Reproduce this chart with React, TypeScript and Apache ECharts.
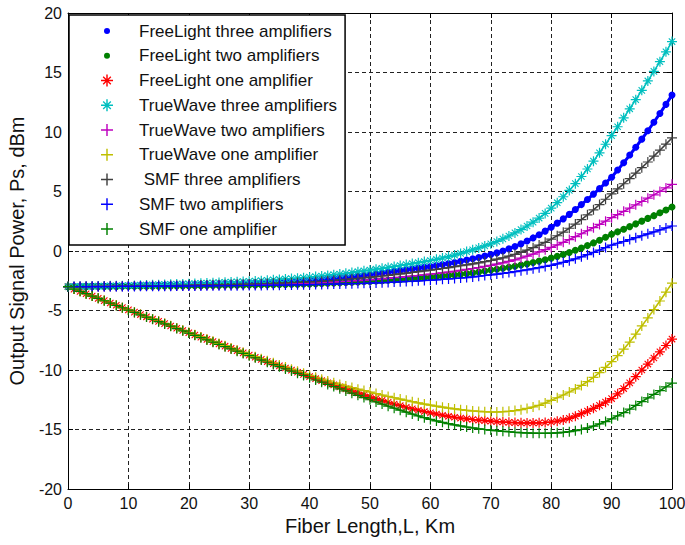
import React, { useEffect, useRef } from "react";
import * as echarts from "echarts";

// Fiber length (km)
const DISTANCE_KM = [
  0, 1, 2, 3, 4, 5, 6, 7, 8, 9, 10, 11, 12, 13, 14, 15, 16, 17, 18, 19, 20,
  21, 22, 23, 24, 25, 26, 27, 28, 29, 30, 31, 32, 33, 34, 35, 36, 37, 38, 39, 40,
  41, 42, 43, 44, 45, 46, 47, 48, 49, 50, 51, 52, 53, 54, 55, 56, 57, 58, 59, 60,
  61, 62, 63, 64, 65, 66, 67, 68, 69, 70, 71, 72, 73, 74, 75, 76, 77, 78, 79, 80,
  81, 82, 83, 84, 85, 86, 87, 88, 89, 90, 91, 92, 93, 94, 95, 96, 97, 98, 99, 100,
];

const FL_THREE = [
  -3.0, -2.99, -2.99, -2.98, -2.97, -2.96, -2.96, -2.95, -2.95, -2.94, -2.93,
  -2.92, -2.91, -2.91, -2.9, -2.89, -2.88, -2.87, -2.87, -2.86, -2.85,
  -2.84, -2.82, -2.81, -2.79, -2.78, -2.76, -2.75, -2.73, -2.72, -2.7,
  -2.68, -2.66, -2.63, -2.61, -2.58, -2.56, -2.53, -2.51, -2.48, -2.45,
  -2.41, -2.37, -2.32, -2.28, -2.23, -2.18, -2.12, -2.07, -2.01, -1.95,
  -1.89, -1.83, -1.77, -1.71, -1.64, -1.58, -1.51, -1.44, -1.37, -1.3,
  -1.22, -1.14, -1.05, -0.96, -0.86, -0.76, -0.65, -0.54, -0.42, -0.3,
  -0.16, 0.0, 0.18, 0.38, 0.6, 0.84, 1.1, 1.37, 1.67, 2.0,
  2.34, 2.7, 3.08, 3.48, 3.9, 4.33, 4.78, 5.24, 5.72, 6.2,
  6.8, 7.42, 8.06, 8.72, 9.4, 10.1, 10.82, 11.56, 12.32, 13.1,
];

const FL_TWO = [
  -3.0, -3.0, -3.0, -2.99, -2.99, -2.99, -2.98, -2.98, -2.98, -2.97, -2.97,
  -2.97, -2.96, -2.96, -2.95, -2.95, -2.94, -2.94, -2.93, -2.93, -2.92,
  -2.91, -2.91, -2.9, -2.9, -2.89, -2.88, -2.88, -2.87, -2.87, -2.86,
  -2.85, -2.84, -2.84, -2.83, -2.82, -2.81, -2.8, -2.79, -2.78, -2.77,
  -2.75, -2.73, -2.71, -2.69, -2.67, -2.65, -2.62, -2.6, -2.57, -2.55,
  -2.52, -2.49, -2.46, -2.43, -2.39, -2.36, -2.32, -2.28, -2.24, -2.2,
  -2.16, -2.11, -2.06, -2.01, -1.95, -1.9, -1.84, -1.76, -1.68, -1.6,
  -1.53, -1.45, -1.37, -1.28, -1.18, -1.08, -0.97, -0.85, -0.73, -0.6,
  -0.45, -0.29, -0.12, 0.06, 0.25, 0.46, 0.68, 0.91, 1.15, 1.4,
  1.61, 1.83, 2.05, 2.28, 2.51, 2.74, 2.97, 3.21, 3.45, 3.7,
];

const FL_ONE = [
  -3.0, -3.2, -3.39, -3.59, -3.78, -3.98, -4.17, -4.37, -4.56, -4.76, -4.95,
  -5.14, -5.34, -5.53, -5.72, -5.91, -6.1, -6.3, -6.49, -6.68, -6.87,
  -7.06, -7.25, -7.43, -7.62, -7.81, -8.0, -8.19, -8.37, -8.56, -8.75,
  -8.93, -9.11, -9.29, -9.47, -9.65, -9.83, -10.01, -10.19, -10.37, -10.55,
  -10.73, -10.9, -11.08, -11.25, -11.42, -11.59, -11.76, -11.93, -12.09, -12.25,
  -12.41, -12.56, -12.71, -12.86, -13.0, -13.13, -13.26, -13.38, -13.49, -13.6,
  -13.7, -13.8, -13.89, -13.97, -14.04, -14.1, -14.16, -14.21, -14.26, -14.3,
  -14.34, -14.37, -14.4, -14.42, -14.44, -14.45, -14.45, -14.44, -14.41, -14.37,
  -14.3, -14.2, -14.06, -13.88, -13.67, -13.45, -13.22, -12.97, -12.7, -12.4,
  -12.0, -11.56, -11.08, -10.56, -10.0, -9.5, -8.99, -8.47, -7.94, -7.4,
];

const TW_THREE = [
  -3.0, -2.99, -2.98, -2.97, -2.96, -2.95, -2.94, -2.93, -2.92, -2.91, -2.9,
  -2.89, -2.87, -2.86, -2.84, -2.83, -2.81, -2.8, -2.78, -2.77, -2.75,
  -2.73, -2.71, -2.69, -2.67, -2.65, -2.63, -2.61, -2.59, -2.57, -2.55,
  -2.52, -2.49, -2.46, -2.42, -2.39, -2.35, -2.32, -2.28, -2.24, -2.2,
  -2.15, -2.1, -2.05, -1.99, -1.94, -1.88, -1.81, -1.74, -1.67, -1.6,
  -1.53, -1.46, -1.38, -1.3, -1.22, -1.14, -1.06, -0.98, -0.89, -0.8,
  -0.7, -0.59, -0.47, -0.34, -0.2, -0.05, 0.1, 0.26, 0.43, 0.6,
  0.8, 1.02, 1.26, 1.52, 1.8, 2.1, 2.42, 2.77, 3.16, 3.6,
  4.06, 4.56, 5.09, 5.66, 6.26, 6.89, 7.55, 8.25, 8.97, 9.7,
  10.44, 11.19, 11.95, 12.72, 13.5, 14.29, 15.09, 15.91, 16.74, 17.6,
];

const TW_TWO = [
  -3.0, -3.0, -2.99, -2.99, -2.99, -2.98, -2.98, -2.97, -2.97, -2.96, -2.96,
  -2.95, -2.95, -2.94, -2.93, -2.93, -2.92, -2.92, -2.91, -2.91, -2.9,
  -2.89, -2.88, -2.88, -2.87, -2.86, -2.85, -2.84, -2.84, -2.83, -2.82,
  -2.81, -2.8, -2.79, -2.78, -2.76, -2.75, -2.74, -2.73, -2.72, -2.7,
  -2.68, -2.66, -2.63, -2.61, -2.58, -2.55, -2.52, -2.49, -2.45, -2.42,
  -2.38, -2.34, -2.3, -2.25, -2.21, -2.16, -2.11, -2.06, -2.01, -1.95,
  -1.89, -1.83, -1.77, -1.7, -1.63, -1.55, -1.47, -1.39, -1.3, -1.2,
  -1.1, -0.99, -0.87, -0.74, -0.59, -0.43, -0.26, -0.08, 0.11, 0.3,
  0.51, 0.73, 0.96, 1.2, 1.45, 1.7, 1.96, 2.23, 2.51, 2.8,
  3.06, 3.33, 3.6, 3.88, 4.16, 4.44, 4.72, 5.01, 5.3, 5.6,
];

const TW_ONE = [
  -3.0, -3.2, -3.39, -3.59, -3.78, -3.98, -4.17, -4.37, -4.56, -4.76, -4.95,
  -5.14, -5.33, -5.52, -5.71, -5.9, -6.09, -6.28, -6.47, -6.66, -6.85,
  -7.04, -7.22, -7.41, -7.59, -7.78, -7.96, -8.15, -8.33, -8.52, -8.7,
  -8.88, -9.05, -9.23, -9.4, -9.58, -9.75, -9.93, -10.1, -10.28, -10.45,
  -10.61, -10.77, -10.92, -11.07, -11.21, -11.35, -11.48, -11.61, -11.73, -11.85,
  -11.98, -12.1, -12.22, -12.33, -12.44, -12.55, -12.66, -12.76, -12.86, -12.95,
  -13.04, -13.12, -13.2, -13.27, -13.33, -13.39, -13.44, -13.48, -13.51, -13.53,
  -13.53, -13.51, -13.47, -13.41, -13.33, -13.23, -13.11, -12.97, -12.78, -12.55,
  -12.33, -12.1, -11.85, -11.59, -11.3, -10.98, -10.62, -10.22, -9.78, -9.3,
  -8.8, -8.25, -7.65, -6.99, -6.3, -5.62, -4.92, -4.2, -3.46, -2.7,
];

const SMF_THREE = [
  -3.0, -3.0, -2.99, -2.99, -2.98, -2.98, -2.97, -2.97, -2.96, -2.96, -2.95,
  -2.94, -2.94, -2.93, -2.92, -2.92, -2.91, -2.9, -2.89, -2.89, -2.88,
  -2.87, -2.86, -2.85, -2.84, -2.83, -2.82, -2.81, -2.8, -2.79, -2.78,
  -2.77, -2.75, -2.73, -2.72, -2.7, -2.68, -2.66, -2.64, -2.62, -2.6,
  -2.57, -2.54, -2.5, -2.46, -2.42, -2.38, -2.34, -2.29, -2.25, -2.2,
  -2.15, -2.1, -2.04, -1.98, -1.92, -1.86, -1.8, -1.73, -1.67, -1.6,
  -1.54, -1.47, -1.4, -1.32, -1.24, -1.16, -1.08, -0.99, -0.9, -0.8,
  -0.69, -0.57, -0.43, -0.28, -0.11, 0.08, 0.28, 0.5, 0.73, 1.0,
  1.28, 1.58, 1.91, 2.26, 2.64, 3.04, 3.46, 3.9, 4.35, 4.8,
  5.22, 5.65, 6.09, 6.54, 7.0, 7.48, 7.97, 8.47, 8.98, 9.5,
];

const SMF_TWO = [
  -3.0, -3.0, -3.0, -3.0, -2.99, -2.99, -2.99, -2.99, -2.98, -2.98, -2.98,
  -2.98, -2.97, -2.97, -2.97, -2.96, -2.96, -2.96, -2.95, -2.95, -2.95,
  -2.94, -2.94, -2.93, -2.93, -2.92, -2.92, -2.91, -2.91, -2.9, -2.9,
  -2.89, -2.89, -2.88, -2.87, -2.87, -2.86, -2.85, -2.84, -2.84, -2.83,
  -2.82, -2.81, -2.8, -2.78, -2.77, -2.76, -2.75, -2.73, -2.72, -2.7,
  -2.68, -2.66, -2.64, -2.61, -2.59, -2.56, -2.54, -2.51, -2.48, -2.45,
  -2.42, -2.38, -2.35, -2.31, -2.27, -2.23, -2.18, -2.12, -2.06, -2.0,
  -1.94, -1.88, -1.81, -1.74, -1.66, -1.58, -1.49, -1.4, -1.3, -1.2,
  -1.08, -0.95, -0.81, -0.66, -0.49, -0.31, -0.12, 0.08, 0.29, 0.5,
  0.65, 0.8, 0.96, 1.12, 1.28, 1.44, 1.6, 1.77, 1.94, 2.1,
];

const SMF_ONE = [
  -3.0, -3.2, -3.39, -3.59, -3.79, -3.98, -4.18, -4.38, -4.58, -4.77, -4.97,
  -5.16, -5.36, -5.55, -5.74, -5.94, -6.13, -6.32, -6.52, -6.71, -6.9,
  -7.09, -7.28, -7.47, -7.66, -7.85, -8.04, -8.23, -8.42, -8.61, -8.8,
  -8.98, -9.17, -9.35, -9.54, -9.72, -9.91, -10.09, -10.28, -10.46, -10.65,
  -10.84, -11.02, -11.21, -11.39, -11.58, -11.76, -11.95, -12.13, -12.32, -12.5,
  -12.68, -12.86, -13.04, -13.21, -13.38, -13.54, -13.7, -13.86, -14.01, -14.15,
  -14.28, -14.4, -14.51, -14.61, -14.7, -14.79, -14.87, -14.94, -15.0, -15.05,
  -15.1, -15.15, -15.19, -15.23, -15.26, -15.29, -15.31, -15.32, -15.32, -15.31,
  -15.28, -15.24, -15.18, -15.1, -15.0, -14.87, -14.71, -14.53, -14.33, -14.1,
  -13.85, -13.58, -13.29, -12.98, -12.65, -12.35, -12.05, -11.74, -11.42, -11.1,
];

const SERIES_NAMES = [
  "FreeLight three amplifiers",
  "FreeLight two amplifiers",
  "FreeLight one amplifier",
  "TrueWave three amplifiers",
  "TrueWave two amplifiers",
  "TrueWave one amplifier",
  " SMF three amplifiers",
  "SMF two amplifiers",
  "SMF one amplifier",
];
const SERIES_VALUES = [FL_THREE, FL_TWO, FL_ONE, TW_THREE, TW_TWO, TW_ONE, SMF_THREE, SMF_TWO, SMF_ONE];

const X_TICKS = [0, 10, 20, 30, 40, 50, 60, 70, 80, 90, 100];
const Y_TICKS = [-20, -15, -10, -5, 0, 5, 10, 15, 20];

// styles
const COLORS = ["#0000FF", "#008000", "#FF0000", "#00BFBF", "#BF00BF", "#BFBF00", "#404040", "#0000FF", "#008000"];
const PLUS = "path://M4.4,0H5.6V4.4H10V5.6H5.6V10H4.4V5.6H0V4.4H4.4Z";
const STAR =
  "path://M4.4,0H5.6V4.4H10V5.6H5.6V10H4.4V5.6H0V4.4H4.4Z M2.19,1.41L8.59,7.81L7.81,8.59L1.41,2.19Z M8.59,2.19L2.19,8.59L1.41,7.81L7.81,1.41Z";
const DOT_ICON = "path://M0,0L0,0M12,12L12,12M6,3A3,3,0,1,1,6,9A3,3,0,1,1,6,3Z";
const KINDS = ["dot", "dot", "star", "star", "plus", "plus", "plus", "plus", "plus"];
const FONT = '"Liberation Sans", Arial, Helvetica, sans-serif';

export default function App() {
  const ref = useRef<HTMLDivElement>(null);
  useEffect(() => {
    if (!ref.current) return;
    const chart = echarts.init(ref.current, undefined, { renderer: "svg" });
    const series = SERIES_NAMES.map((name, i) => {
      const kind = KINDS[i];
      return {
        name,
        type: "line",
        showSymbol: true,
        showAllSymbol: true,
        symbol: kind === "dot" ? "circle" : kind === "star" ? STAR : PLUS,
        symbolSize: kind === "dot" ? 7 : 10,
        symbolKeepAspect: true,
        clip: false,
        lineStyle: { color: COLORS[i], width: kind === "dot" ? 3 : 1.6 },
        itemStyle: { color: COLORS[i], borderWidth: 0 },
        emphasis: { disabled: true },
        silent: true,
        data: DISTANCE_KM.map((x, j) => [x, SERIES_VALUES[i][j]]),
      };
    });
    const splitLine = { show: true, lineStyle: { color: "#222", type: [4, 3], width: 1 } };
    const axisLine = { show: true, onZero: false, lineStyle: { color: "#000", width: 1 } };
    const tick = { show: true, inside: true, length: 5, lineStyle: { color: "#000" } };
    chart.setOption({
      animation: false,
      backgroundColor: "#fff",
      grid: {
        left: 68,
        top: 13,
        width: 604,
        height: 476,
        containLabel: false,
        outerBoundsMode: "none",
      },
      legend: {
        orient: "vertical",
        left: 69,
        top: 15,
        padding: [6, 8, 6, 32],
        itemWidth: 54,
        itemHeight: 12,
        itemGap: 4.75,
        symbolKeepAspect: true,
        selectedMode: false,
        backgroundColor: "#fff",
        borderColor: "#000",
        borderWidth: 1.5,
        borderRadius: 0,
        textStyle: { fontFamily: FONT, fontSize: 17, color: "#111", lineHeight: 20 },
        data: SERIES_NAMES.map((name, i) => ({
          name,
          icon: KINDS[i] === "dot" ? DOT_ICON : KINDS[i] === "star" ? STAR : PLUS,
        })),
      },
      xAxis: [
        {
          type: "value",
          min: X_TICKS[0],
          max: X_TICKS[X_TICKS.length - 1],
          interval: 10,
          position: "bottom",
          name: "Fiber Length,L, Km",
          nameLocation: "middle",
          nameGap: 23,
          nameTextStyle: { fontFamily: FONT, fontSize: 20, color: "#111" },
          axisLine,
          axisTick: tick,
          axisLabel: { fontFamily: FONT, fontSize: 16, color: "#111", margin: 6 },
          splitLine,
        },
        {
          type: "value",
          min: X_TICKS[0],
          max: X_TICKS[X_TICKS.length - 1],
          interval: 10,
          position: "top",
          axisLine,
          axisTick: tick,
          axisLabel: { show: false },
          splitLine: { show: false },
        },
      ],
      yAxis: [
        {
          type: "value",
          min: Y_TICKS[0],
          max: Y_TICKS[Y_TICKS.length - 1],
          interval: 5,
          position: "left",
          name: "Output Signal Power, Ps, dBm",
          nameLocation: "middle",
          nameGap: 41,
          nameRotate: 90,
          nameTextStyle: { fontFamily: FONT, fontSize: 20, color: "#111" },
          axisLine,
          axisTick: tick,
          axisLabel: { fontFamily: FONT, fontSize: 16, color: "#111", margin: 6 },
          splitLine,
        },
        {
          type: "value",
          min: Y_TICKS[0],
          max: Y_TICKS[Y_TICKS.length - 1],
          interval: 5,
          position: "right",
          axisLine,
          axisTick: tick,
          axisLabel: { show: false },
          splitLine: { show: false },
        },
      ],
      series,
    });
    return () => chart.dispose();
  }, []);
  return (
    <div
      ref={ref}
      style={{ position: "absolute", left: 0, top: 0, width: 685, height: 545, background: "#fff" }}
    />
  );
}
